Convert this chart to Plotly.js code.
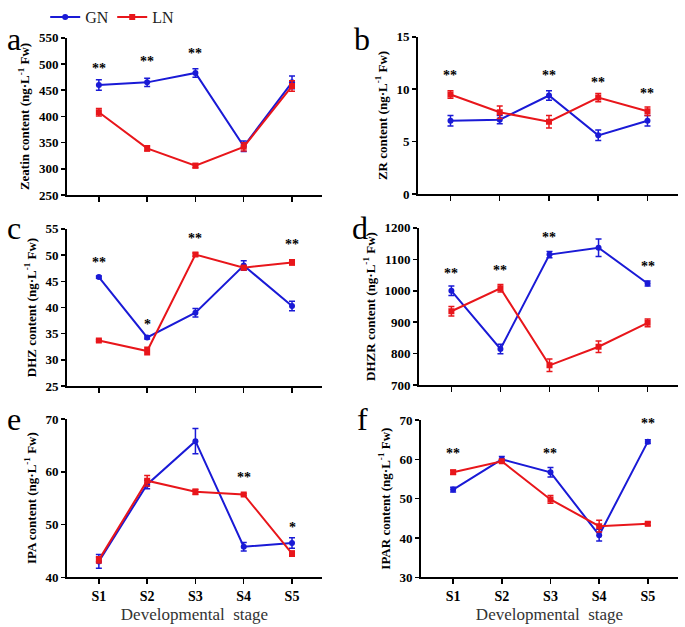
<!DOCTYPE html>
<html>
<head>
<meta charset="utf-8">
<script src="https://cdn.plot.ly/plotly-3.0.1.min.js"></script>
<style>html,body{margin:0;padding:0;background:#fff;}#chart{width:685px;height:627px;}</style>
</head>
<body>
<div id="chart"></div>
<script>
const stages = ["S1", "S2", "S3", "S4", "S5"];

const zeatinGN = [460, 465, 483, 343, 465];
const zeatinGNErr = [10, 8, 8, 10, 12];
const zeatinLN = [408, 339, 306, 342, 458];
const zeatinLNErr = [7, 5, 4, 8, 10];
const zeatinStars = ["**", "**", "**", "", ""];
const zeatinStarY = [491, 505, 520, null, null];

const zrGN = [7.0, 7.1, 9.4, 5.6, 7.0];
const zrGNErr = [0.5, 0.4, 0.45, 0.5, 0.5];
const zrLN = [9.5, 7.8, 6.9, 9.2, 7.9];
const zrLNErr = [0.35, 0.6, 0.6, 0.4, 0.4];
const zrStars = ["**", "", "**", "**", "**"];
const zrStarY = [11.3, null, 11.3, 10.6, 9.6];

const dhzGN = [45.8, 34.3, 39.0, 48.0, 40.3];
const dhzGNErr = [0.2, 0.3, 0.8, 0.9, 0.9];
const dhzLN = [33.7, 31.7, 50.1, 47.6, 48.6];
const dhzLNErr = [0.2, 0.7, 0.3, 0.4, 0.5];
const dhzStars = ["**", "*", "**", "", "**"];
const dhzStarY = [48.5, 36.8, 53.1, null, 52.0];

const dhzrGN = [1000, 815, 1115, 1137, 1023];
const dhzrGNErr = [15, 15, 10, 28, 8];
const dhzrLN = [935, 1008, 763, 822, 898];
const dhzrLNErr = [15, 12, 20, 18, 12];
const dhzrStars = ["**", "**", "**", "**", "**"];
const dhzrStarY = [1054, 1064, 1168, 1210, 1077];

const ipaGN = [43.0, 57.6, 65.8, 45.8, 46.5];
const ipaGNErr = [1.3, 0.8, 2.4, 0.8, 1.0];
const ipaLN = [43.3, 58.3, 56.2, 55.7, 44.5];
const ipaLNErr = [0.6, 1.0, 0.5, 0.2, 0.5];
const ipaStars = ["", "", "**", "**", "*"];
const ipaStarY = [null, null, 70.2, 58.9, 49.4];

const iparGN = [52.3, 60.0, 56.7, 40.7, 64.5];
const iparGNErr = [0.6, 0.7, 1.2, 1.5, 0.5];
const iparLN = [56.7, 59.5, 49.8, 43.0, 43.6];
const iparLNErr = [0.5, 0.4, 1.0, 1.5, 0.4];
const iparStars = ["**", "", "**", "", "**"];
const iparStarY = [61.4, null, 61.4, null, 69.0];

const panels = [
  {letter: "a", name: "Zeatin", gn: zeatinGN, gnE: zeatinGNErr, ln: zeatinLN, lnE: zeatinLNErr, stars: zeatinStars, starY: zeatinStarY, range: [250, 550], dtick: 50, dx: [0.0978, 0.470], dy: [0.6922, 0.9442]},
  {letter: "b", name: "ZR", gn: zrGN, gnE: zrGNErr, ln: zrLN, lnE: zrLNErr, stars: zrStars, starY: zrStarY, range: [0, 15], dtick: 5, dx: [0.6102, 0.9898], dy: [0.6938, 0.9458]},
  {letter: "c", name: "DHZ", gn: dhzGN, gnE: dhzGNErr, ln: dhzLN, lnE: dhzLNErr, stars: dhzStars, starY: dhzStarY, range: [25, 55], dtick: 5, dx: [0.0978, 0.470], dy: [0.3860, 0.6380]},
  {letter: "d", name: "DHZR", gn: dhzrGN, gnE: dhzrGNErr, ln: dhzrLN, lnE: dhzrLNErr, stars: dhzrStars, starY: dhzrStarY, range: [700, 1200], dtick: 100, dx: [0.6117, 0.9898], dy: [0.3876, 0.6396]},
  {letter: "e", name: "IPA", gn: ipaGN, gnE: ipaGNErr, ln: ipaLN, lnE: ipaLNErr, stars: ipaStars, starY: ipaStarY, range: [40, 70], dtick: 10, dx: [0.0978, 0.470], dy: [0.0797, 0.3333]},
  {letter: "f", name: "IPAR", gn: iparGN, gnE: iparGNErr, ln: iparLN, lnE: iparLNErr, stars: iparStars, starY: iparStarY, range: [30, 70], dtick: 10, dx: [0.6146, 0.9898], dy: [0.0797, 0.3317]}
];

const letterPos = [[14, 36], [362, 36], [14, 226], [360, 226], [14, 418], [362, 418]];

const BLUE = "#1a1ad6";
const RED = "#e8161b";
const FONT = "Liberation Serif";
const W = 685, H = 627;

const data = [];
const layout = {
  width: W, height: H,
  margin: {l: 0, r: 0, t: 0, b: 0},
  paper_bgcolor: "#fff", plot_bgcolor: "rgba(0,0,0,0)",
  font: {family: FONT, color: "#000"},
  showlegend: true,
  legend: {orientation: "h", x: 0.066, y: 1.005, xanchor: "left", yanchor: "top",
           font: {family: FONT, size: 16, color: "#222"}, tracegroupgap: 0,
           entrywidth: 22, entrywidthmode: "pixels",
           bgcolor: "rgba(0,0,0,0)"},
  annotations: []
};

panels.forEach((p, i) => {
  const n = i + 1;
  const xa = "x" + (n === 1 ? "" : n), ya = "y" + (n === 1 ? "" : n);
  const xk = "xaxis" + (n === 1 ? "" : n), yk = "yaxis" + (n === 1 ? "" : n);
  data.push({
    x: stages, y: p.gn, xaxis: xa, yaxis: ya, type: "scatter", mode: "lines+markers",
    name: "GN", legendgroup: "GN", showlegend: i === 0,
    line: {color: BLUE, width: 2}, marker: {color: BLUE, size: 6, symbol: "circle"},
    error_y: {type: "data", array: p.gnE, visible: true, color: BLUE, thickness: 1.5, width: 3}
  });
  data.push({
    x: stages, y: p.ln, xaxis: xa, yaxis: ya, type: "scatter", mode: "lines+markers",
    name: "LN", legendgroup: "LN", showlegend: i === 0,
    line: {color: RED, width: 2}, marker: {color: RED, size: 6, symbol: "square"},
    error_y: {type: "data", array: p.lnE, visible: true, color: RED, thickness: 1.5, width: 3}
  });
  const bottom = i >= 4;
  const xax = {
    domain: p.dx, anchor: ya, type: "category", range: [-0.66, 4.62],
    showline: true, linecolor: "#000", linewidth: 2, ticks: "outside", ticklen: 5, tickwidth: 1.5, tickcolor: "#000",
    showgrid: false, zeroline: false, fixedrange: true,
    showticklabels: bottom,
    tickfont: {family: FONT, size: 14, color: "#000", weight: "bold"}
  };
  if (bottom) xax.title = {text: "Developmental  stage", font: {family: FONT, size: 17, color: "#333"}, standoff: 5};
  layout[xk] = xax;
  layout[yk] = {
    domain: p.dy, anchor: xa, range: p.range, dtick: p.dtick, tick0: p.range[0],
    showline: true, linecolor: "#000", linewidth: 2, ticks: "outside", ticklen: 4, tickwidth: 1.5, tickcolor: "#000",
    showgrid: false, zeroline: false, fixedrange: true,
    tickfont: {family: FONT, size: 13, color: "#000", weight: "bold"},
    title: {text: "<b>" + p.name + " content (ng·L<sup>-1</sup> Fw)</b>", font: {family: FONT, size: 13, color: "#000"}, standoff: 6}
  };
  p.stars.forEach((s, k) => {
    if (s) layout.annotations.push({
      x: stages[k], y: p.starY[k], xref: xa, yref: ya, text: s, showarrow: false,
      font: {family: FONT, size: 14, color: "#000", weight: "bold"}
    });
  });
  layout.annotations.push({
    x: letterPos[i][0] / W, y: 1 - letterPos[i][1] / H, xref: "paper", yref: "paper",
    text: p.letter, showarrow: false, xanchor: "center", yanchor: "middle",
    font: {family: FONT, size: 32, color: "#000"}
  });
});

Plotly.newPlot("chart", data, layout, {displayModeBar: false, staticPlot: true});
</script>
</body>
</html>
